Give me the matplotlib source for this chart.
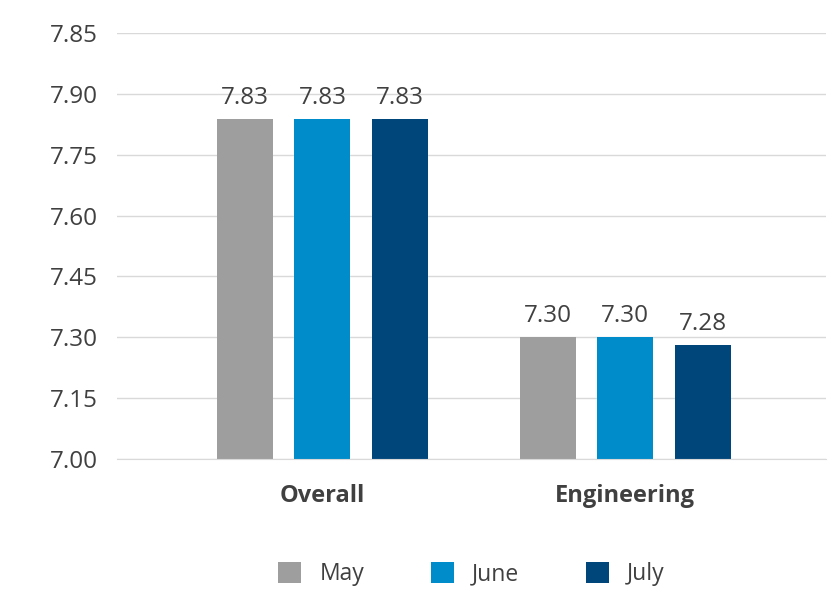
import matplotlib

matplotlib.use("Agg")
import matplotlib.pyplot as plt
import numpy as np
from matplotlib.patches import Patch

categories = ["Overall", "Engineering"]
months = ["May", "June", "July"]
may = [7.837, 7.30]
june = [7.837, 7.30]
july = [7.837, 7.28]
may_labels = ["7.83", "7.30"]
june_labels = ["7.83", "7.30"]
july_labels = ["7.83", "7.28"]
y_ticks = [7.00, 7.15, 7.30, 7.45, 7.60, 7.75, 7.90, 8.05]
y_tick_labels = ["7.00", "7.15", "7.30", "7.45", "7.60", "7.75", "7.90", "7.85"]

colors = ["#9E9E9E", "#008BCB", "#00467A"]
text_color = "#404040"

plt.rcParams["font.family"] = ["Open Sans", "DejaVu Sans"]

fig = plt.figure(figsize=(8.36, 5.89), dpi=100)
ax = fig.add_axes([0.14, 0.2207, 0.848, 0.7233])

x = np.arange(len(categories))
width = 0.185
step = 0.256
series = [(may, may_labels), (june, june_labels), (july, july_labels)]
for i, (name, (values, labels)) in enumerate(zip(months, series)):
    pos = x + (i - 1) * step
    bars = ax.bar(pos, values, width=width, color=colors[i], label=name, zorder=2)
    for bar, value, label in zip(bars, values, labels):
        ax.annotate(label, (bar.get_x() + bar.get_width() / 2, value),
                    xytext=(0, 7), textcoords="offset points", ha="center", va="bottom",
                    fontsize=17.5, color=text_color)

ax.set_ylim(7.00, 8.05)
ax.set_xlim(-0.679, 1.664)
ax.set_yticks(y_ticks)
ax.set_yticklabels(y_tick_labels)
ax.set_xticks(x)
ax.set_xticklabels(categories, fontweight="bold")
ax.tick_params(axis="y", length=0, pad=14, labelsize=17.5, labelcolor=text_color)
ax.tick_params(axis="x", length=0, pad=18, labelsize=17, labelcolor=text_color)
ax.grid(axis="y", color="#D9D9D9", linewidth=1, zorder=0)
for side in ["top", "right", "left"]:
    ax.spines[side].set_visible(False)
ax.spines["bottom"].set_color("#D9D9D9")

handles = [Patch(facecolor=c) for c in colors]
fig.legend(handles, months, loc="center", bbox_to_anchor=(0.564, 0.025), ncol=3, frameon=False,
           fontsize=16.5, handlelength=1.0, handleheight=1.0, handletextpad=0.8, columnspacing=2.9,
           labelcolor=text_color)

fig.savefig("out.png", dpi=100)
